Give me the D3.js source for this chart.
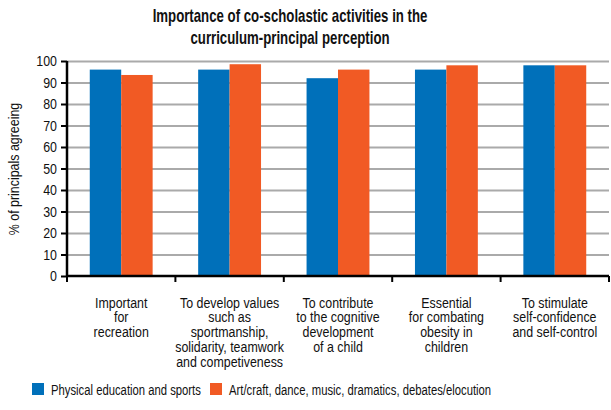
<!DOCTYPE html>
<html>
  <head>
    <meta charset="utf-8">
    <title></title>
  </head>
  <style>
  body{
      margin: 0;
      font-family: "Liberation Sans", Arial, sans-serif;
      background: #fff;
    }
  .grid .domain { display: none }
  .grid .tick line { stroke: #aaa; stroke-width: 2 }
  .axis text { font-size: 14.5px; fill: #111 }
  </style>
  <script src="https://d3js.org/d3.v7.min.js"></script>
  <body>
    <script>
    // data
    const categories = [
      ["Important", "for", "recreation"],
      ["To develop values", "such as", "sportmanship,", "solidarity, teamwork", "and competiveness"],
      ["To contribute", "to the cognitive", "development", "of a child"],
      ["Essential", "for combating", "obesity in", "children"],
      ["To stimulate", "self-confidence", "and self-control"]
    ]
    const seriesNames = ["Physical education and sports", "Art/craft, dance, music, dramatics, debates/elocution"]
    const physical = [96, 96, 92, 96, 98]
    const arts = [93.5, 98.5, 96, 98, 98]
    const yTicks = [0, 10, 20, 30, 40, 50, 60, 70, 80, 90, 100]
    const colors = ["#0070ba", "#f15a24"]
    const titleLines = ["Importance of co-scholastic activities in the", "curriculum-principal perception"]

    var W = 611, H = 410
    var margin = { left: 67, top: 61, right: 2, bottom: 134 }
    var width = W - margin.left - margin.right
    var height = H - margin.top - margin.bottom

    var svg = d3.select("body").append("svg")
                .attr("width", W).attr("height", H)

    // measure to get a condensed look (horizontal squeeze)
    function measure(str, size, bold) {
      var p = svg.append("text").attr("font-size", size + "px").attr("font-weight", bold ? "bold" : null).text(str)
      var w = p.node().getComputedTextLength()
      p.remove()
      return w
    }
    var sx = 150 / measure(seriesNames[0], 14.5)
    var sxCat = sx * 1.1
    var sxTitle = 275 / measure(titleLines[0], 17.5, true)

    function label(parent, x, y, lines, size, anchor, lh, bold, s) {
      var gg = parent.append("g").attr("transform", "translate(" + x + "," + y + ") scale(" + s + ",1)")
      var t = gg.append("text")
        .attr("text-anchor", anchor)
        .attr("font-size", size + "px")
        .attr("fill", "#111")
        .attr("font-weight", bold ? "bold" : null)
      lines.forEach(function(line, k){
        t.append("tspan").attr("x", 0).attr("y", k * lh).text(line)
      })
      return gg
    }

    // title
    label(svg, 290, 22, titleLines, 17.5, "middle", 22.5, true, sxTitle)

    var g = svg.append("g").attr("transform", "translate(" + margin.left + "," + margin.top + ")")

    var idx = d3.range(categories.length)
    var x0 = d3.scaleBand().domain(idx).range([0, width]).paddingInner(0).paddingOuter(0)
    var x1 = d3.scaleBand().domain([0, 1]).range([0, x0.bandwidth() * 0.58])
    var y = d3.scaleLinear().domain([0, 100]).range([height, 0])

    // grid
    g.append("g")
      .attr("class", "grid")
      .call(d3.axisLeft(y).tickValues(yTicks.slice(1)).tickSize(-width).tickFormat(""))
    g.select(".grid .tick:last-of-type line").attr("stroke", "#ccc")

    // bars
    var groups = g.selectAll(".grp")
      .data(idx).enter().append("g")
      .attr("transform", function(i){ return "translate(" + (x0(i) + x0.bandwidth() * 0.21) + ",0)" })

    groups.selectAll("rect")
      .data(function(i){ return [physical[i], arts[i]] })
      .enter().append("rect")
      .attr("x", function(d, j){ return x1(j) })
      .attr("width", x1.bandwidth())
      .attr("y", function(d){ return y(d) })
      .attr("height", function(d){ return height - y(d) })
      .attr("fill", function(d, j){ return colors[j] })

    // y axis
    var yAxis = g.append("g").attr("class", "axis")
      .call(d3.axisLeft(y).tickValues(yTicks).tickSize(6).tickPadding(3))
    yAxis.select(".domain").attr("stroke", "#000").attr("stroke-width", 2.5)
      .attr("d", "M0," + (height + 1) + "V0")
    yAxis.selectAll(".tick line").attr("stroke", "#000").attr("stroke-width", 2)
    yAxis.selectAll(".tick text")
      .attr("x", -10 / sxCat)
      .attr("transform", "scale(" + sxCat + ",1)")
      .attr("font-family", "Liberation Sans, Arial, sans-serif")

    // x axis line with ticks at band edges
    var edges = idx.map(function(i){ return x0(i) }).concat([width])
    g.append("line").attr("x1", -1).attr("x2", width).attr("y1", height).attr("y2", height)
      .attr("stroke", "#000").attr("stroke-width", 2.5)
    g.selectAll(".xt").data(edges).enter().append("line")
      .attr("x1", function(d){ return d }).attr("x2", function(d){ return d })
      .attr("y1", height).attr("y2", height + 6)
      .attr("stroke", "#000").attr("stroke-width", 2)

    // category labels
    idx.forEach(function(i){
      label(g, x0(i) + x0.bandwidth() / 2, height + 31.5, categories[i], 14.5, "middle", 15, false, sxCat)
    })

    // y label
    svg.append("g")
      .attr("transform", "translate(19,169) rotate(-90) scale(" + sxCat + ",1)")
      .append("text")
      .attr("text-anchor", "middle")
      .attr("font-size", "14.5px")
      .attr("fill", "#111")
      .text("% of principals agreeing")

    // legend
    var legX = [32, 210]
    seriesNames.forEach(function(name, i){
      svg.append("rect").attr("x", legX[i]).attr("y", 383).attr("width", 12).attr("height", 12).attr("fill", colors[i])
      label(svg, legX[i] + 19, 394.5, [name], 14.5, "start", 15, false, sx)
    })
    </script>
  </body>
</html>
